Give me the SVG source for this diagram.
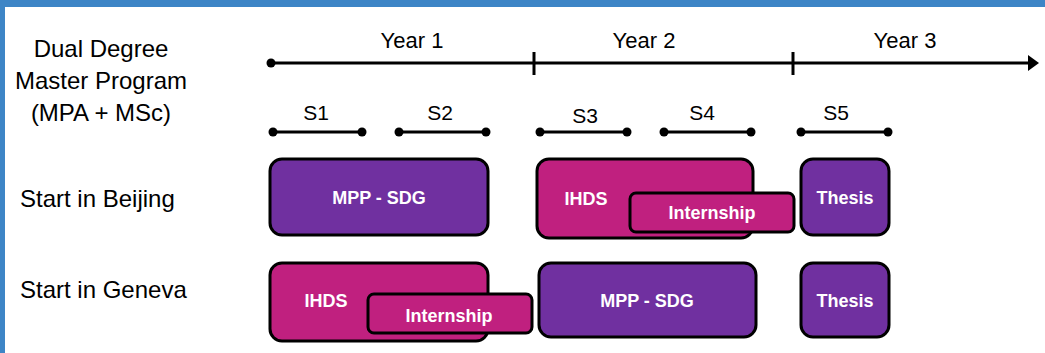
<svg xmlns="http://www.w3.org/2000/svg" width="1045" height="353" viewBox="0 0 1045 353">
<style>
.lbl{font-family:"Liberation Sans",Arial,sans-serif;fill:#000}
.big{font-size:24px}
.yr{font-size:22px}
.sm{font-size:21px}
.bx{stroke:#000;stroke-width:3}
.pur{fill:#7030A0}
.mag{fill:#C0207F}
.bt{font-family:"Liberation Sans",Arial,sans-serif;font-weight:bold;font-size:18px;fill:#fff;text-anchor:middle}
.ln{stroke:#000;stroke-width:3;fill:none}
</style>
<rect x="0" y="0" width="1045" height="353" fill="#fff"/>
<rect x="0" y="0" width="1045" height="7" fill="#3D85C6"/>
<rect x="0" y="0" width="5" height="353" fill="#3D85C6"/>
<g id="title" class="lbl big" text-anchor="middle">
<text x="101" y="57">Dual Degree</text>
<text x="101" y="89">Master Program</text>
<text x="101" y="121">(MPA + MSc)</text>
</g>
<g id="row-labels" class="lbl big">
<text x="20" y="207">Start in Beijing</text>
<text x="20" y="298">Start in Geneva</text>
</g>
<g id="connectors">
<line class="ln" x1="271" y1="63" x2="1030" y2="63"/>
<circle cx="271" cy="63" r="4.5" fill="#000"/>
<polygon points="1028,55 1039,63 1028,71" fill="#000"/>
<line class="ln" x1="534" y1="52" x2="534" y2="75"/>
<line class="ln" x1="793" y1="52" x2="793" y2="75"/>
<g>
<line class="ln" x1="273" y1="132" x2="362" y2="132"/><circle cx="273" cy="132" r="4.5"/><circle cx="362" cy="132" r="4.5"/>
<line class="ln" x1="399" y1="132" x2="486" y2="132"/><circle cx="399" cy="132" r="4.5"/><circle cx="486" cy="132" r="4.5"/>
<line class="ln" x1="540" y1="132" x2="627" y2="132"/><circle cx="540" cy="132" r="4.5"/><circle cx="627" cy="132" r="4.5"/>
<line class="ln" x1="664" y1="132" x2="751" y2="132"/><circle cx="664" cy="132" r="4.5"/><circle cx="751" cy="132" r="4.5"/>
<line class="ln" x1="801" y1="132" x2="888" y2="132"/><circle cx="801" cy="132" r="4.5"/><circle cx="888" cy="132" r="4.5"/>
</g>
</g>
<g id="year-labels" class="lbl yr" text-anchor="middle">
<text x="412" y="48">Year 1</text>
<text x="644" y="48">Year 2</text>
<text x="905" y="48">Year 3</text>
</g>
<g id="sem-labels" class="lbl sm" text-anchor="middle">
<text x="316" y="120">S1</text>
<text x="440" y="120">S2</text>
<text x="585" y="123">S3</text>
<text x="702" y="120">S4</text>
<text x="836" y="120">S5</text>
</g>
<g id="beijing-mpp">
<rect class="bx pur" x="270" y="159" width="218" height="76" rx="12"/>
<text class="bt" x="379" y="204">MPP - SDG</text>
</g>
<g id="beijing-ihds">
<rect class="bx mag" x="537" y="159" width="216" height="79" rx="12"/>
<text class="bt" x="586" y="205">IHDS</text>
</g>
<g id="beijing-internship">
<rect class="bx mag" x="630" y="193" width="164" height="39" rx="6"/>
<text class="bt" x="712" y="219">Internship</text>
</g>
<g id="beijing-thesis">
<rect class="bx pur" x="801" y="159" width="88" height="76" rx="12"/>
<text class="bt" x="845" y="204">Thesis</text>
</g>
<g id="geneva-ihds">
<rect class="bx mag" x="270" y="263" width="218" height="78" rx="12"/>
<text class="bt" x="326" y="307">IHDS</text>
</g>
<g id="geneva-internship">
<rect class="bx mag" x="368" y="294" width="164" height="39" rx="6"/>
<text class="bt" x="449" y="322">Internship</text>
</g>
<g id="geneva-mpp">
<rect class="bx pur" x="539" y="263" width="217" height="74" rx="12"/>
<text class="bt" x="647" y="307">MPP - SDG</text>
</g>
<g id="geneva-thesis">
<rect class="bx pur" x="801" y="263" width="88" height="74" rx="12"/>
<text class="bt" x="845" y="307">Thesis</text>
</g>
</svg>
